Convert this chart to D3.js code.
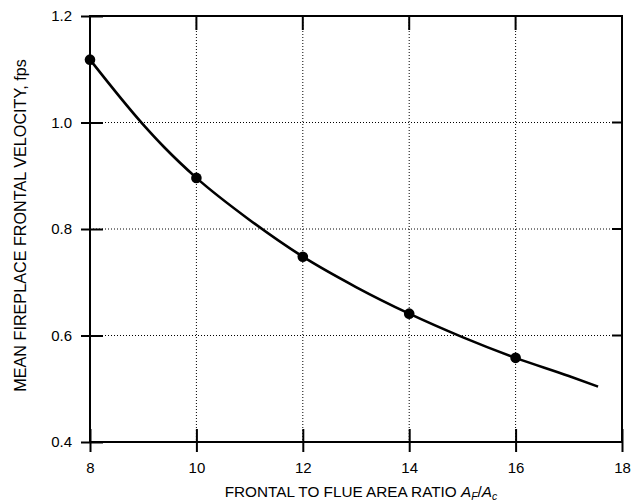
<!DOCTYPE html>
<html>
<head>
<meta charset="utf-8">
<script src="https://cdn.jsdelivr.net/npm/d3@7"></script>
<style>
  body { margin: 0; background: #fff; }
  svg { font-family: "Liberation Sans", Arial, sans-serif; }
  .grid line { stroke: #000; stroke-width: 1; stroke-dasharray: 1,2; }
</style>
</head>
<body>
<svg id="svg" width="631" height="504"></svg>
<script>
// measured points (markers)
const ratios = [8, 10, 12, 14, 16];
const velocities = [1.118, 0.896, 0.748, 0.641, 0.558];

// curve
const curveX = [8, 9, 9.4, 10, 11, 12, 13, 14, 15, 16, 17, 17.55];
const curveY = [1.118, 0.996, 0.953, 0.896, 0.817, 0.748, 0.691, 0.641, 0.597, 0.558, 0.524, 0.504];

const xTicks = [8, 10, 12, 14, 16, 18];
const yTicks = [0.4, 0.6, 0.8, 1.0, 1.2];

const margin = { left: 90, right: 9, top: 16, bottom: 62 };
const width = 631, height = 504;

const svg = d3.select('#svg');
const x = d3.scaleLinear().domain([8, 18]).range([margin.left, width - margin.right]);
const y = d3.scaleLinear().domain([0.4, 1.2]).range([height - margin.bottom, margin.top]);

const x0 = x(8), x1 = x(18), y0 = y(0.4), y1 = y(1.2);

// dotted grid
const grid = svg.append('g').attr('class', 'grid');
grid.selectAll('.vg').data(xTicks.slice(1, -1)).enter().append('line')
  .attr('x1', (d) => x(d)).attr('x2', (d) => x(d))
  .attr('y1', y1).attr('y2', y0);
grid.selectAll('.hg').data(yTicks.slice(1, -1)).enter().append('line')
  .attr('x1', x0).attr('x2', x1)
  .attr('y1', (d) => y(d)).attr('y2', (d) => y(d));

// frame
svg.append('rect')
  .attr('x', x0).attr('y', y1)
  .attr('width', x1 - x0).attr('height', y0 - y1)
  .attr('fill', 'none').attr('stroke', '#000').attr('stroke-width', 2);

// axes with ticks crossing the frame
const fmt = d3.format('.1f');
const bottom = svg.append('g').attr('transform', 'translate(0,' + y0 + ')')
  .call(d3.axisBottom(x).tickValues(xTicks).tickSize(-13).tickFormat(d3.format('d')));
const left = svg.append('g').attr('transform', 'translate(' + x0 + ',0)')
  .call(d3.axisLeft(y).tickValues(yTicks).tickSize(-13).tickFormat(fmt));

[bottom, left].forEach((a) => {
  a.select('.domain').remove();
  a.selectAll('.tick line').attr('stroke', '#000').attr('stroke-width', 2);
  a.selectAll('text').attr('font-size', 15).attr('fill', '#000')
    .attr('font-family', '"Liberation Sans", Arial, sans-serif');
});
// outer tick stubs
bottom.selectAll('.tick').append('line').attr('y1', 0).attr('y2', 10)
  .attr('stroke', '#000').attr('stroke-width', 2);
left.selectAll('.tick').append('line').attr('x1', 0).attr('x2', -9)
  .attr('stroke', '#000').attr('stroke-width', 2);
bottom.selectAll('text').attr('y', 20);
left.selectAll('text').attr('x', -18);

// top and right inner ticks
svg.append('g').selectAll('line').data(xTicks.slice(1, -1)).enter().append('line')
  .attr('x1', (d) => x(d)).attr('x2', (d) => x(d))
  .attr('y1', y1).attr('y2', y1 + 14)
  .attr('stroke', '#000').attr('stroke-width', 2);
svg.append('g').selectAll('line').data(yTicks.slice(1, -1)).enter().append('line')
  .attr('x1', x1).attr('x2', x1 - 10)
  .attr('y1', (d) => y(d)).attr('y2', (d) => y(d))
  .attr('stroke', '#000').attr('stroke-width', 2);

// curve
const line = d3.line().x((d) => x(d[0])).y((d) => y(d[1])).curve(d3.curveMonotoneX);
svg.append('path')
  .datum(curveX.map((v, i) => [v, curveY[i]]))
  .attr('d', line)
  .attr('fill', 'none').attr('stroke', '#000').attr('stroke-width', 2.6);

// markers
svg.append('g').selectAll('circle').data(ratios).enter().append('circle')
  .attr('cx', (d) => x(d)).attr('cy', (d, i) => y(velocities[i]))
  .attr('r', 5.3).attr('fill', '#000');

// axis titles
const xt = svg.append('text')
  .attr('x', 361).attr('y', 497)
  .attr('text-anchor', 'middle').attr('font-size', 15.3).attr('fill', '#000');
xt.append('tspan').text('FRONTAL TO FLUE AREA RATIO ');
xt.append('tspan').attr('font-style', 'italic').text('A');
xt.append('tspan').attr('font-style', 'italic').attr('font-size', 10.5).attr('dy', 2.5).text('F');
xt.append('tspan').attr('dy', -2.5).text('/');
xt.append('tspan').attr('font-style', 'italic').text('A');
xt.append('tspan').attr('font-style', 'italic').attr('font-size', 10.5).attr('dy', 2.5).text('c');

svg.append('text')
  .attr('transform', 'translate(26,225.5) rotate(-90)')
  .attr('text-anchor', 'middle').attr('font-size', 16.2).attr('fill', '#000')
  .text('MEAN FIREPLACE FRONTAL VELOCITY, fps');
</script>
</body>
</html>
